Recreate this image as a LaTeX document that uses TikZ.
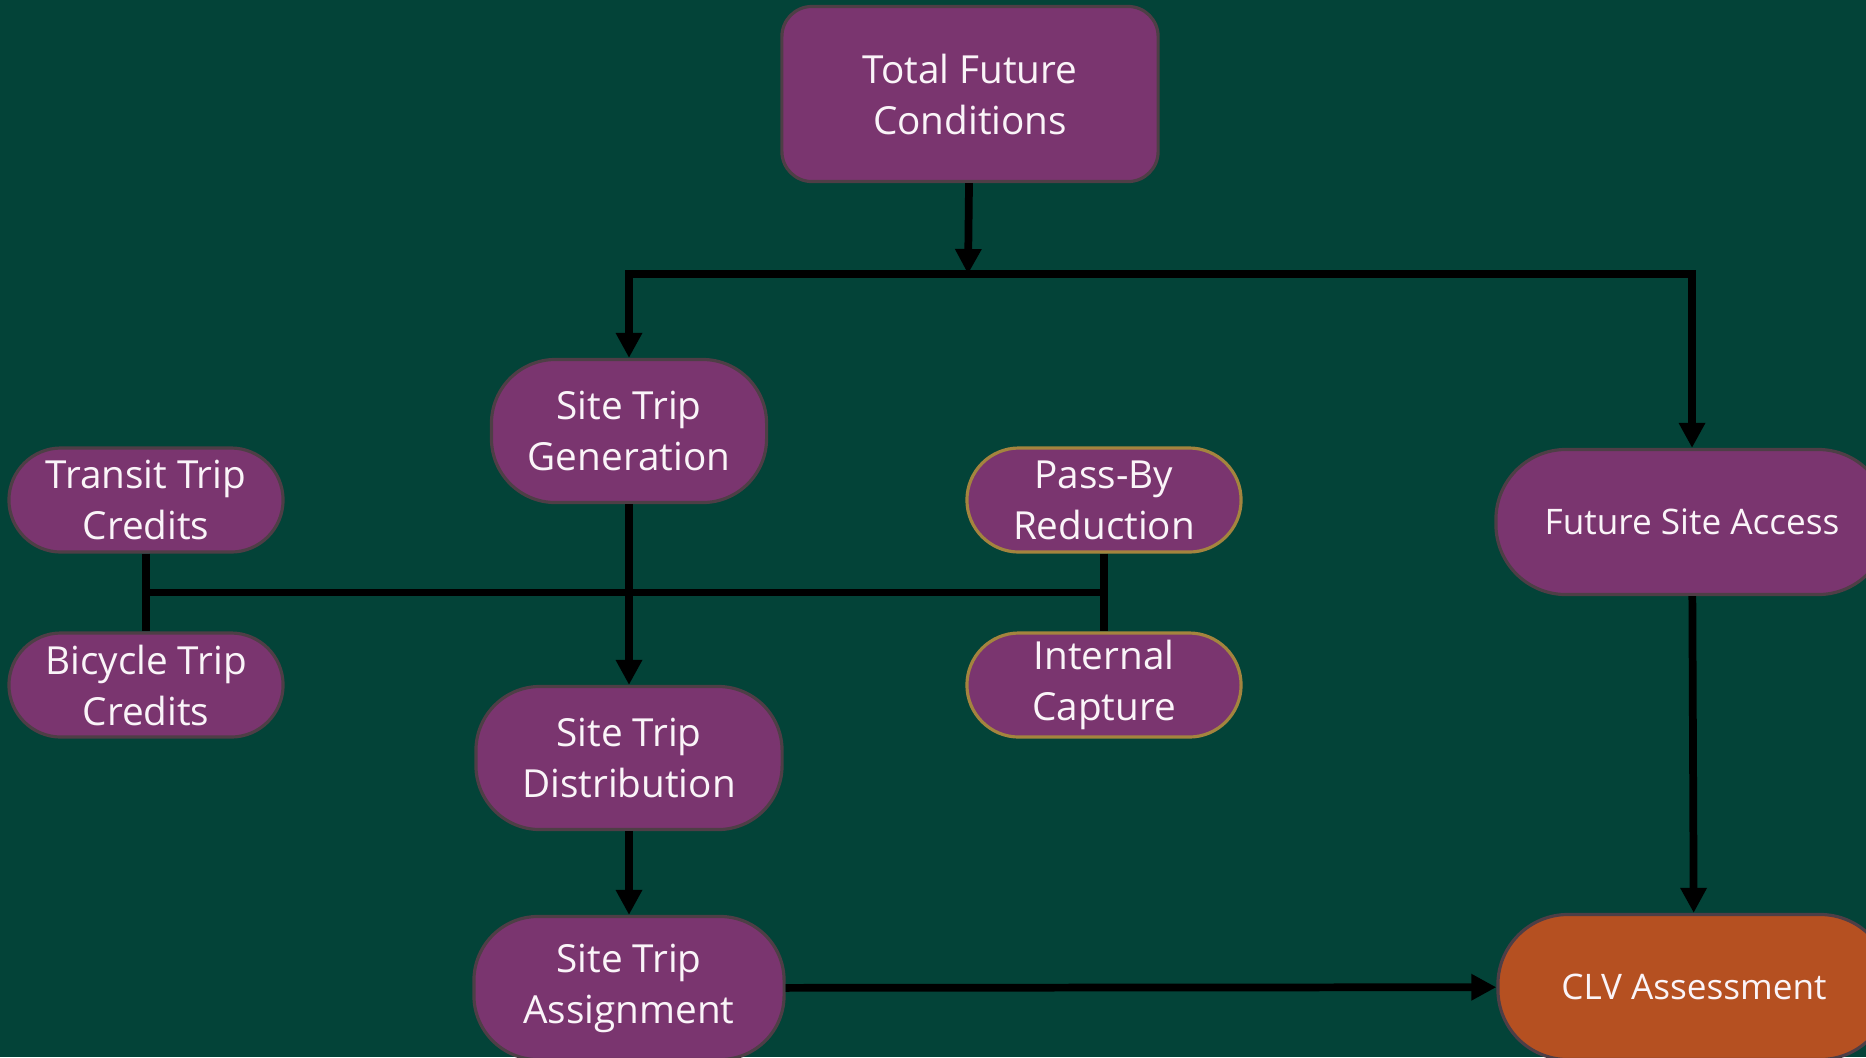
\documentclass[tikz,border=0pt]{standalone}
\usepackage{fontspec}
\setmainfont{Open Sans}
\usetikzlibrary{arrows.meta,calc}
\definecolor{bgGreen}{RGB}{3,67,56}
\definecolor{boxPurple}{RGB}{122,53,111}
\definecolor{boxOrange}{RGB}{181,80,33}
\definecolor{boxEdge}{RGB}{78,62,70}
\definecolor{goldEdge}{RGB}{164,132,62}
\definecolor{labelWhite}{RGB}{250,244,248}
\begin{document}
\begin{tikzpicture}[
    box/.style={draw=boxEdge, line width=0.9pt, fill=boxPurple, text=labelWhite,
      align=center, inner sep=0pt, font=\fontsize{11}{14.5}\selectfont},
    pill/.style={box, minimum width=2.74cm, minimum height=1.04cm, rounded corners=0.52cm},
    tall/.style={box, minimum height=1.43cm, rounded corners=0.64cm},
    wide/.style={box, minimum width=3.92cm, minimum height=1.45cm, rounded corners=0.7cm,
      font=\fontsize{10}{13}\selectfont},
    link/.style={line width=2.2pt, black},
    arrow/.style={link, -{Triangle[length=0.25cm,width=0.25cm]}}]
        \def\x{0.01}
        \def\y{-0.01}
        \useasboundingbox (0,0) rectangle (1866*\x, 1057*\y);
        \fill[bgGreen] (0,0) rectangle (1866*\x, 1057*\y);
        % boxes
        \node[box, minimum width=3.76cm, minimum height=1.75cm, rounded corners=0.3cm]
          (A0_2) at (970*\x, 94*\y) {Total Future\\Conditions};
        \node[tall, minimum width=2.75cm] (A1_1) at (629*\x, 431*\y) {Site Trip\\Generation};
        \node[pill] (A2_0) at (146*\x, 500*\y) {Transit Trip\\Credits};
        \node[pill, draw=goldEdge] (A2_2) at (1104*\x, 500*\y) {Pass-By\\Reduction};
        \node[wide] (A2_3) at (1692*\x, 522*\y) {Future Site Access};
        \node[pill] (A3_0) at (146*\x, 685*\y) {Bicycle Trip\\Credits};
        \node[pill, draw=goldEdge] (A3_2) at (1104*\x, 685*\y) {Internal\\Capture};
        \node[tall, minimum width=3.06cm] (A4_1) at (629*\x, 758*\y) {Site Trip\\Distribution};
        \node[tall, minimum width=3.10cm] (A5_1) at (629*\x, 988*\y) {Site Trip\\Assignment};
        \node[wide, fill=boxOrange] (A5_3) at (1694*\x, 987*\y) {CLV Assessment};
        % connectors
        \coordinate (B0) at (968*\x, 274*\y);
        \coordinate (C0) at ($(A2_0)!0.5!(A3_0)$);
        \coordinate (C1) at ($(A2_2)!0.5!(A3_2)$);
        \path (A0_2) edge [arrow] (B0);
        \draw[arrow] (B0) -| (A1_1);
        \draw[arrow] (B0) -| (A2_3);
        \path (A2_0) edge [link] (A3_0);
        \path (A2_2) edge [link] (A3_2);
        \path (C0) edge [link] (C1);
        \path (A1_1) edge [arrow] (A4_1);
        \path (A4_1) edge [arrow] (A5_1);
        \path (A5_1) edge [arrow] (A5_3);
        \path (A2_3) edge [arrow] (A5_3);
      \end{tikzpicture}
\end{document}
